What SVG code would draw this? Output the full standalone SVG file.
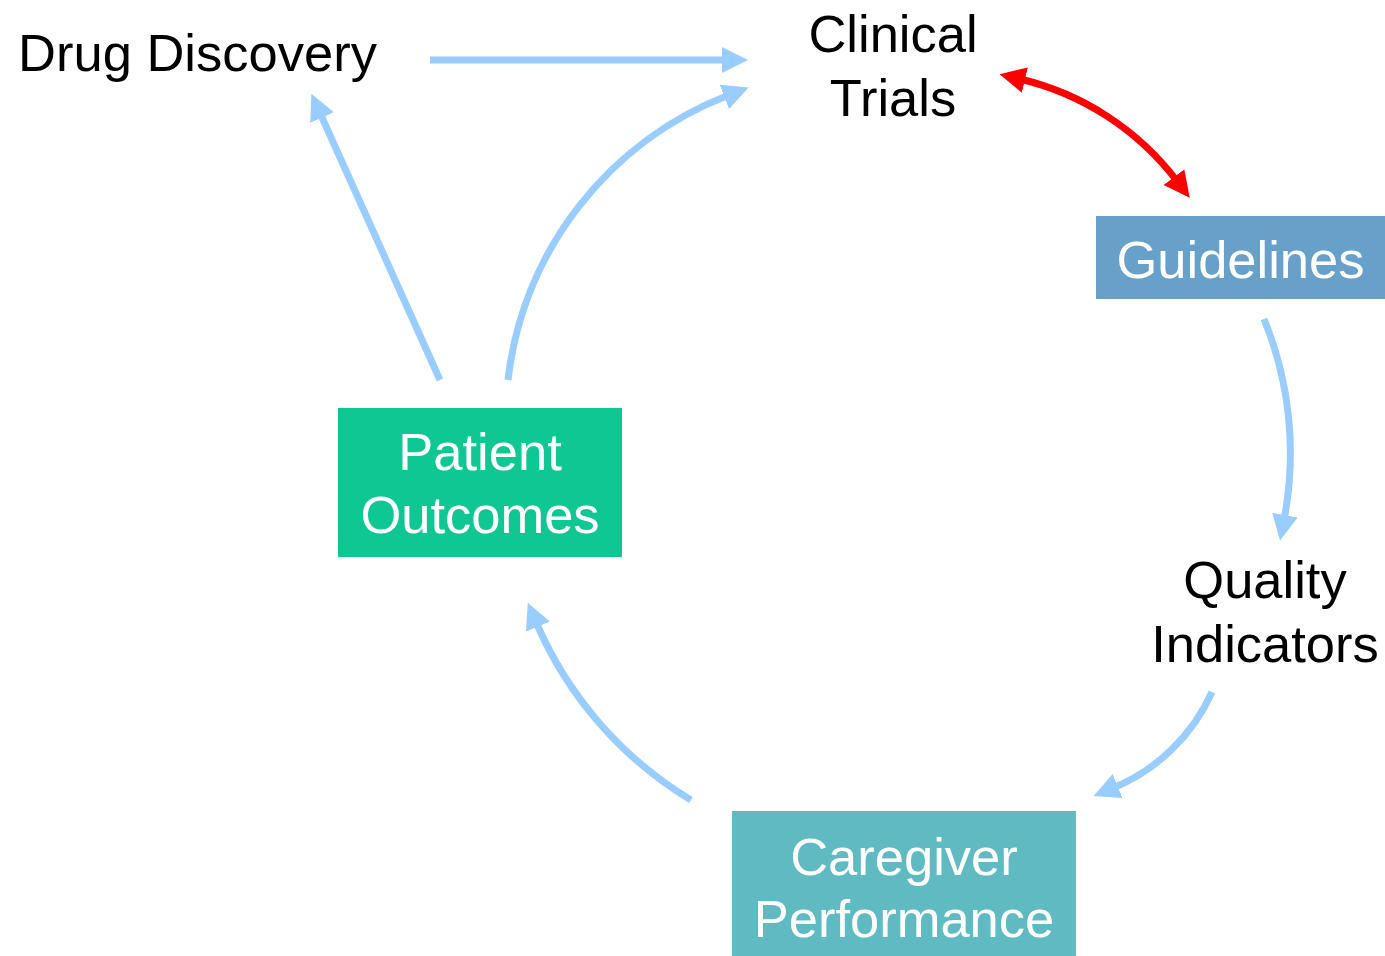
<svg xmlns="http://www.w3.org/2000/svg" width="1385" height="956" viewBox="0 0 1385 956">
<style>
.t{font-family:"Liberation Sans",Arial,sans-serif;font-size:52.5px;text-anchor:middle}
.k{fill:#000}
.w{fill:#fff}
.c{fill:none;stroke:#99CCFF;stroke-width:7}
.r{fill:none;stroke:#FF0000;stroke-width:7}
</style>
<defs>
<marker id="ab" markerUnits="userSpaceOnUse" markerWidth="28" markerHeight="28" refX="5" refY="13" orient="auto"><path d="M0,0 L26,13 L0,26 z" fill="#99CCFF"/></marker>
<marker id="ar" markerUnits="userSpaceOnUse" markerWidth="28" markerHeight="28" refX="5" refY="13" orient="auto-start-reverse"><path d="M0,0 L26,13 L0,26 z" fill="#FF0000"/></marker>
</defs>
<g id="connectors">
<path class="c" d="M430,60 L727,60" marker-end="url(#ab)"/>
<path class="c" d="M508,380 A348,348 0 0 1 729,95" marker-end="url(#ab)"/>
<path class="c" d="M440,380 L320,113" marker-end="url(#ab)"/>
<path class="r" d="M1020,79 A277,277 0 0 1 1177,181" marker-start="url(#ar)" marker-end="url(#ar)"/>
<path class="c" d="M1264,319 A354,354 0 0 1 1284,520" marker-end="url(#ab)"/>
<path class="c" d="M1212,692 A186,186 0 0 1 1113,788" marker-end="url(#ab)"/>
<path class="c" d="M691,800 A384,384 0 0 1 536,622" marker-end="url(#ab)"/>
</g>
<g id="drug-discovery"><text class="t k" x="197.5" y="71">Drug Discovery</text></g>
<g id="clinical-trials"><text class="t k" x="893" y="52">Clinical</text><text class="t k" x="893" y="116">Trials</text></g>
<g id="guidelines"><rect x="1096" y="216" width="289" height="83" fill="#67A0C8"/><text class="t w" x="1240.5" y="278">Guidelines</text></g>
<g id="quality-indicators"><text class="t k" x="1265" y="598">Quality</text><text class="t k" x="1265" y="662">Indicators</text></g>
<g id="caregiver-performance"><rect x="732" y="811" width="344" height="145" fill="#5FBBC1"/><text class="t w" x="904" y="875">Caregiver</text><text class="t w" x="904" y="937">Performance</text></g>
<g id="patient-outcomes"><rect x="338" y="408" width="284" height="149" fill="#0FC793"/><text class="t w" x="480" y="470">Patient</text><text class="t w" x="480" y="533">Outcomes</text></g>
</svg>
